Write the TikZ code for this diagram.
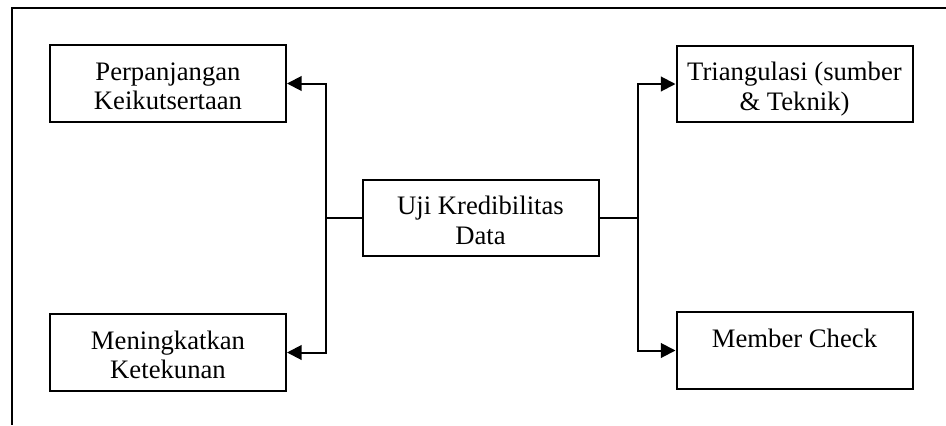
\documentclass[tikz,border=0pt]{standalone}
\usepackage{fontspec}
\setmainfont{Liberation Serif}
\usetikzlibrary{arrows.meta,calc}
\begin{document}
\begin{tikzpicture}[x=0.75pt,y=-0.75pt,
  box/.style={draw, line width=1.5pt, inner sep=0pt, minimum width=177pt, minimum height=57.5pt},
  lbl/.style={inner sep=0pt, align=center, font=\fontsize{20}{22}\selectfont},
  conn/.style={line width=1.5pt},
  arr/.style={line width=1.5pt, -{Triangle[length=11pt,width=11pt]}}]
\useasboundingbox (0,0) rectangle (946,425);
% frame
\coordinate (fr) at (946,8);
\coordinate (fc) at (12,8);
\coordinate (fb) at (12,425);
\draw[line width=1.5pt] (fr) -- (fc) -- (fb);
% boxes
\node[box] (b1) at (168,83.5) {};
\node[box] (b2) at (168,352.5) {};
\node[box] (c) at (480.5,218) {};
\node[box] (b3) at (794.5,84) {};
\node[box] (b4) at (794.5,350.5) {};
% labels (base anchor = baseline of last line)
\node[lbl, anchor=base] (t1) at ($(b1.north)+(0,65.5)$) {Perpanjangan\\Keikutsertaan};
\node[lbl, anchor=base] (t2) at ($(b2.north)+(0,65.5)$) {Meningkatkan\\Ketekunan};
\node[lbl, anchor=base] (tc) at ($(c.north)+(0,65.5)$) {Uji Kredibilitas\\Data};
\node[lbl, anchor=base] (t3) at ($(b3.north)+(0,65.5)$) {Triangulasi (sumber\\\& Teknik)};
\node[lbl, anchor=base] (t4) at ($(b4.north)+(0,36)$) {Member Check};
% connectors
\coordinate (lj) at (326,218);
\coordinate (rj) at (638,218);
\draw[conn] (c.west) -- (lj);
\draw[conn] (c.east) -- (rj);
\draw[arr] (lj) |- (b1.east);
\draw[arr] (lj) |- (b2.east);
\draw[arr] (rj) |- (b3.west);
\draw[arr] (rj) |- (b4.west);
\end{tikzpicture}
\end{document}
